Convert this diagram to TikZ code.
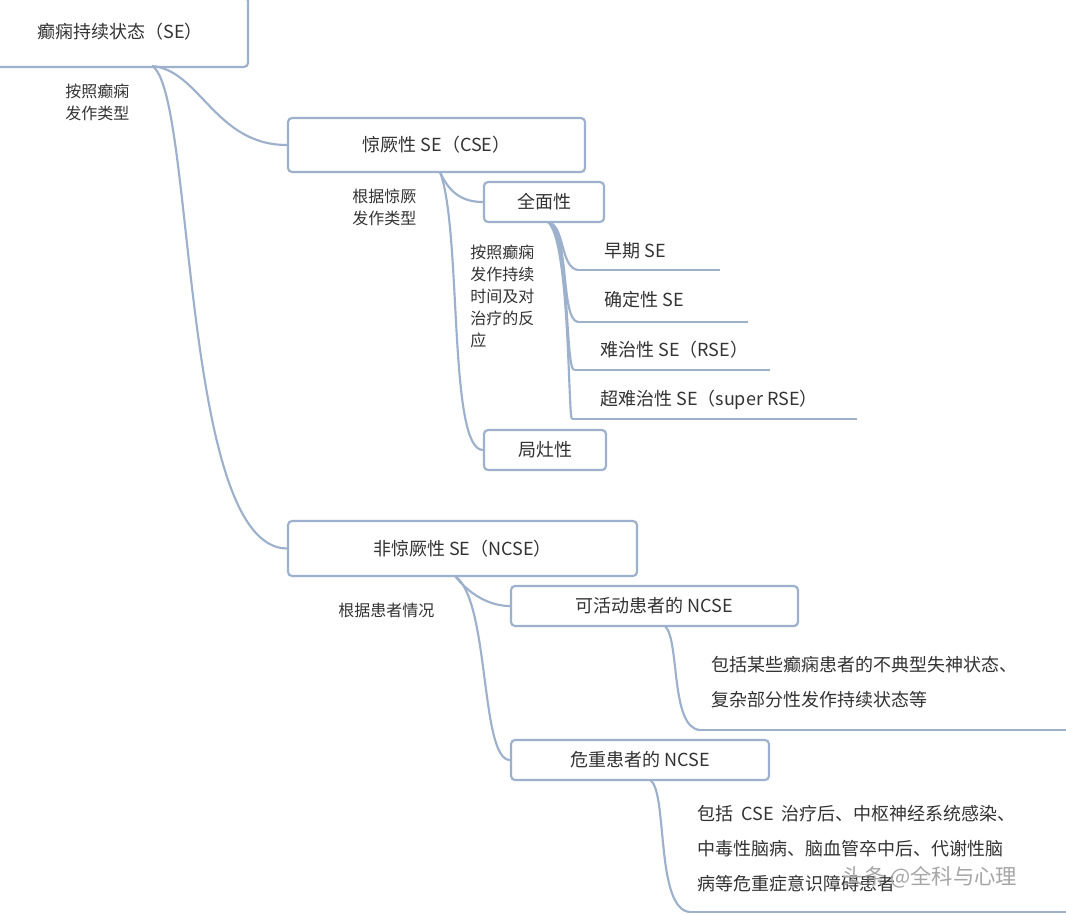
\documentclass[tikz,border=0pt]{standalone}
\usepackage{fontspec}
\setmainfont{Noto Sans CJK SC}
\begin{document}
\begin{tikzpicture}[x=0.75pt,y=-0.75pt]
\definecolor{ln}{HTML}{9DB0CC}
\definecolor{tx}{HTML}{333333}
\tikzset{
 box/.style={draw=ln,line width=1.6pt,rounded corners=3pt,fill=white,inner sep=0pt,text=tx,font=\fontsize{13.5}{16}\selectfont},
 con/.style={draw=ln,line width=1.6pt},
 lbl/.style={text=tx,font=\fontsize{12}{16.5}\selectfont,anchor=north west,align=left,inner sep=0pt},
 itm/.style={text=tx,font=\fontsize{13.5}{16}\selectfont,anchor=west,inner sep=0pt},
}
\useasboundingbox (0,0) rectangle (1066,914);
\fill[white] (0,0) rectangle (1066,914);
% boxes
\node[box,minimum width=256*0.75pt,minimum height=70*0.75pt] (root) at (120,32) {癫痫持续状态（SE）};
\coordinate (rootb) at (152,66);
\node[box,minimum width=297*0.75pt,minimum height=54*0.75pt] (cse) at (436.5,145) {惊厥性 SE（CSE）};
\node[box,minimum width=120*0.75pt,minimum height=40*0.75pt] (qm) at (544,202) {全面性};
\node[box,minimum width=122*0.75pt,minimum height=40*0.75pt] (jz) at (545,450) {局灶性};
\node[box,minimum width=349*0.75pt,minimum height=55*0.75pt] (ncse) at (462.5,548.5) {非惊厥性 SE（NCSE）};
\node[box,minimum width=287*0.75pt,minimum height=40*0.75pt] (kh) at (654.5,606) {可活动患者的 NCSE};
\node[box,minimum width=258*0.75pt,minimum height=40*0.75pt] (wz) at (640,760) {危重患者的 NCSE};
% labels
\node[lbl] (l1) at (65,84) {按照癫痫\\发作类型};
\node[lbl] (l2) at (352,189) {根据惊厥\\发作类型};
\node[lbl] (l3) at (470,245) {按照癫痫\\发作持续\\时间及对\\治疗的反\\应};
\node[lbl] (l4) at (338,603) {根据患者情况};
% items
\node[itm] (e1) at (604,251) {早期 SE};
\node[itm] (e2) at (604,300) {确定性 SE};
\node[itm] (e3) at (600,350) {难治性 SE（RSE）};
\node[itm] (e4) at (600,400) {超难治性 SE（super RSE）};
\coordinate (u1a) at (578,270); \coordinate (u1b) at (720,270);
\coordinate (u2a) at (578,322); \coordinate (u2b) at (748,322);
\coordinate (u3a) at (574,370); \coordinate (u3b) at (770,370);
\coordinate (u4a) at (572,419); \coordinate (u4b) at (857,419);
\node[itm,anchor=north west,align=left,font=\fontsize{13.5}{26.2}\selectfont] (d1) at (711,656) {包括某些癫痫患者的不典型失神状态、\\复杂部分性发作持续状态等};
\coordinate (d1a) at (700,730); \coordinate (d1b) at (1066,730);
\node[itm,anchor=north west,align=left,font=\fontsize{13.5}{26.2}\selectfont] (d2) at (697,805) {包括 \ CSE \ 治疗后、中枢神经系统感染、\\中毒性脑病、脑血管卒中后、代谢性脑\\病等危重症意识障碍患者};
\coordinate (d2a) at (690,912); \coordinate (d2b) at (1066,912);
\foreach \a/\b in {u1a/u1b,u2a/u2b,u3a/u3b,u4a/u4b,d1a/d1b,d2a/d2b} \draw[con] (\a)--(\b);
% connectors
\draw[con] (rootb) .. controls (200,70) and (215,145) .. (cse.west);
\draw[con] (rootb) .. controls (195,90) and (180,548) .. (ncse.west);
\draw[con] (440,172) .. controls (450,195) and (465,202) .. (qm.west);
\draw[con] (440,172) .. controls (462,230) and (448,450) .. (jz.west);
\draw[con] (548,222) .. controls (565,225) and (560,268) .. (u1a);
\draw[con] (548,222) .. controls (570,230) and (560,320) .. (u2a);
\draw[con] (548,222) .. controls (570,235) and (565,368) .. (u3a);
\draw[con] (548,222) .. controls (570,240) and (568,418) .. (u4a);
\draw[con] (455,576) .. controls (470,595) and (490,606) .. (kh.west);
\draw[con] (455,576) .. controls (490,600) and (480,760) .. (wz.west);
\draw[con] (665,626) .. controls (680,640) and (670,728) .. (d1a);
\draw[con] (650,780) .. controls (668,790) and (655,910) .. (d2a);
\node[text=gray!70,font=\fontsize{16}{18}\selectfont] (wm) at (930,877) {头条 @全科与心理};
\end{tikzpicture}
\end{document}
